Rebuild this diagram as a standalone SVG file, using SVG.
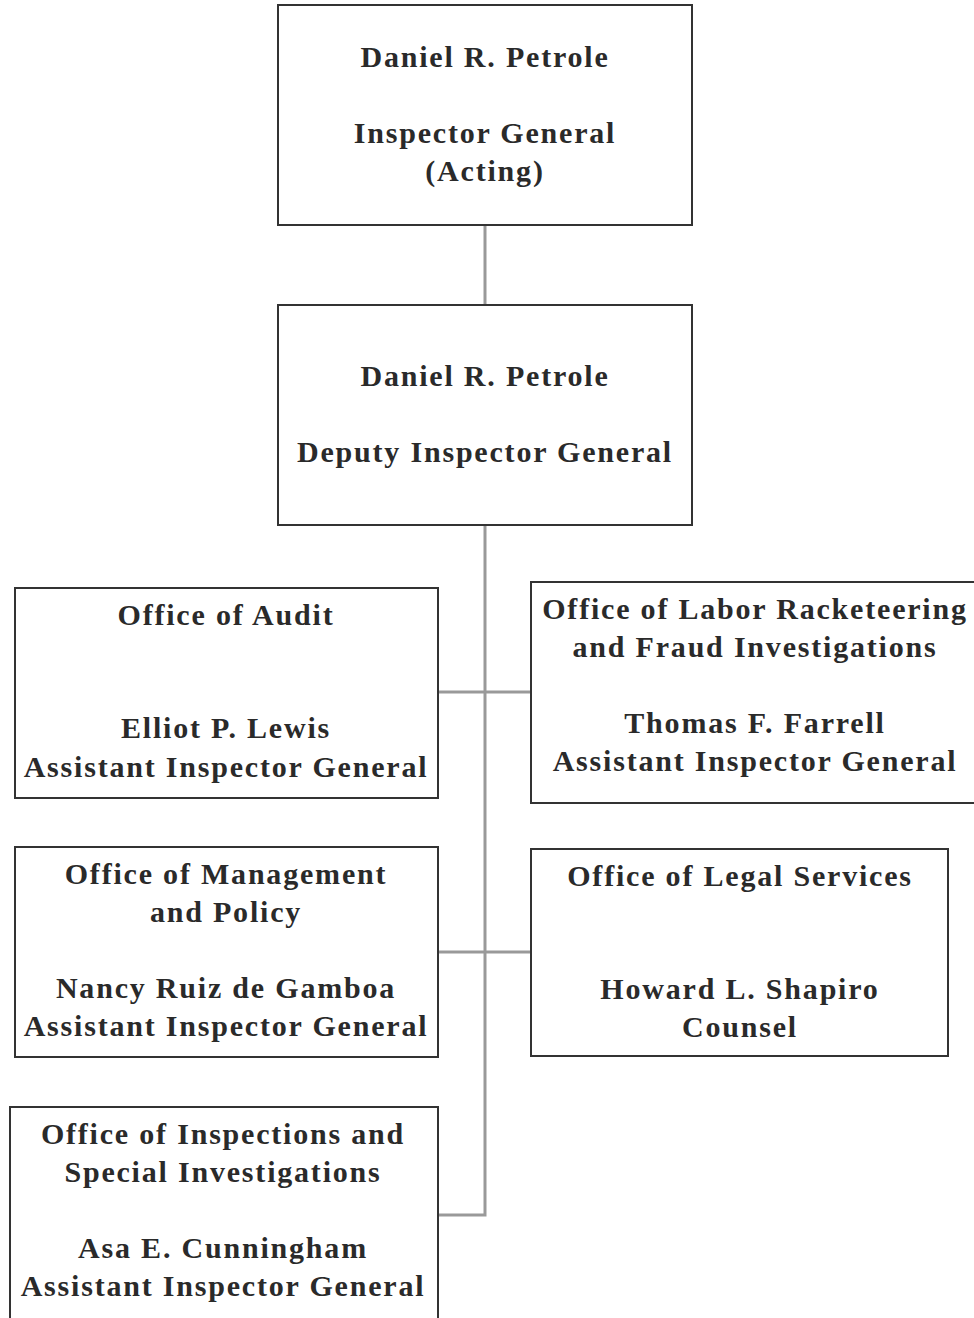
<svg xmlns="http://www.w3.org/2000/svg" width="974" height="1318" viewBox="0 0 974 1318">
<style>
.box{fill:#fff;stroke:#333;stroke-width:2}
.t{font-family:"Liberation Serif","Times New Roman",serif;font-size:30px;font-weight:bold;fill:#2a2a2a;text-anchor:middle;letter-spacing:1.8px}
.c{stroke:#999;stroke-width:3;fill:none}
</style>
<rect width="974" height="1318" fill="#fff"/>
<g id="connectors">
<line class="c" x1="485" y1="225" x2="485" y2="304"/>
<polyline class="c" points="485,526 485,1215 438,1215"/>
<line class="c" x1="438" y1="692" x2="531" y2="692"/>
<line class="c" x1="438" y1="952" x2="531" y2="952"/>
</g>
<g id="ig">
<rect class="box" x="278" y="5" width="414" height="220"/>
<text class="t" x="485" y="67">Daniel R. Petrole</text>
<text class="t" x="485" y="143">Inspector General</text>
<text class="t" x="485" y="181">(Acting)</text>
</g>
<g id="dig">
<rect class="box" x="278" y="305" width="414" height="220"/>
<text class="t" x="485" y="386">Daniel R. Petrole</text>
<text class="t" x="485" y="462">Deputy Inspector General</text>
</g>
<g id="audit">
<rect class="box" x="15" y="588" width="423" height="210"/>
<text class="t" x="226" y="625">Office of Audit</text>
<text class="t" x="226" y="738">Elliot P. Lewis</text>
<text class="t" x="226" y="777">Assistant Inspector General</text>
</g>
<g id="labor">
<rect class="box" x="531" y="582" width="450" height="221"/>
<text class="t" x="755" y="619">Office of Labor Racketeering</text>
<text class="t" x="755" y="657">and Fraud Investigations</text>
<text class="t" x="755" y="733">Thomas F. Farrell</text>
<text class="t" x="755" y="771">Assistant Inspector General</text>
</g>
<g id="management">
<rect class="box" x="15" y="847" width="423" height="210"/>
<text class="t" x="226" y="884">Office of Management</text>
<text class="t" x="226" y="922">and Policy</text>
<text class="t" x="226" y="998">Nancy Ruiz de Gamboa</text>
<text class="t" x="226" y="1036">Assistant Inspector General</text>
</g>
<g id="legal">
<rect class="box" x="531" y="849" width="417" height="207"/>
<text class="t" x="740" y="886">Office of Legal Services</text>
<text class="t" x="740" y="999">Howard L. Shapiro</text>
<text class="t" x="740" y="1037">Counsel</text>
</g>
<g id="inspections">
<rect class="box" x="10" y="1107" width="428" height="230"/>
<text class="t" x="223" y="1144">Office of Inspections and</text>
<text class="t" x="223" y="1182">Special Investigations</text>
<text class="t" x="223" y="1258">Asa E. Cunningham</text>
<text class="t" x="223" y="1296">Assistant Inspector General</text>
</g>
</svg>
